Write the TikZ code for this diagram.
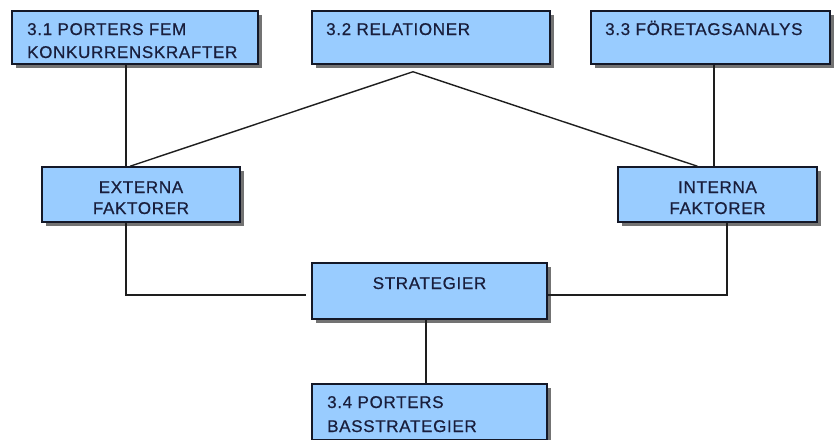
\documentclass[tikz,border=0pt]{standalone}
\usepackage{fontspec}
\setmainfont{Liberation Sans}[LetterSpace=4, FakeBold=0.6]
\usetikzlibrary{shadows}
\definecolor{boxfill}{RGB}{153,204,255}
\definecolor{boxline}{RGB}{20,24,40}
\definecolor{txt}{RGB}{25,30,60}
\definecolor{wire}{RGB}{30,30,30}
\begin{document}
\begin{tikzpicture}[x=1pt,y=-1pt,
  box/.style={draw=boxline, line width=1.5pt, fill=boxfill, inner sep=0pt,
    drop shadow={shadow xshift=3.5pt, shadow yshift=-3.5pt, fill=black!55, opacity=1}},
  lbl/.style={inner sep=0pt, text=txt, font=\fontsize{17}{23}\selectfont},
  wireline/.style={draw=wire, line width=1.4pt}]
\useasboundingbox (0,0) rectangle (840,439);
\fill[white] (0,0) rectangle (840,439);
% boxes
\node[box, minimum width=246pt, minimum height=53pt] (b31) at (135,37.5) {};
\node[box, minimum width=238pt, minimum height=53pt] (b32) at (431,37.5) {};
\node[box, minimum width=239pt, minimum height=53pt] (b33) at (710.5,37.5) {};
\node[box, minimum width=198pt, minimum height=55pt] (ext) at (141,194.5) {};
\node[box, minimum width=199pt, minimum height=55pt] (int) at (717.5,194.5) {};
\node[box, minimum width=235pt, minimum height=56pt] (str) at (429.5,291) {};
\node[box, minimum width=235pt, minimum height=56pt] (b34) at (429.5,412) {};
% texts (base anchor = last line)
\node[lbl, anchor=base west, align=left] (t31) at (27,58) {3.1 PORTERS FEM\\KONKURRENSKRAFTER};
\node[lbl, anchor=base west] (t32) at (326,35) {3.2 RELATIONER};
\node[lbl, anchor=base west] (t33) at (605,35) {3.3 FÖRETAGSANALYS};
\node[lbl, anchor=base, align=center, font=\fontsize{17}{21}\selectfont] (text) at (141,214) {EXTERNA\\FAKTORER};
\node[lbl, anchor=base, align=center, font=\fontsize{17}{21}\selectfont] (tint) at (717.5,214) {INTERNA\\FAKTORER};
\node[lbl, anchor=base] (tstr) at (429.5,289) {STRATEGIER};
\node[lbl, anchor=base west, align=left, font=\fontsize{17}{24}\selectfont] (t34) at (327,432) {3.4 PORTERS\\BASSTRATEGIER};
% connectors
\coordinate (peak) at ([xshift=-18pt,yshift=-7pt]b32.south);
\draw[wireline] ([xshift=-9pt]b31.south) -- ([xshift=-15pt]ext.north);
\draw[wireline] ([xshift=-11pt]ext.north) -- (peak) -- ([xshift=-20pt]int.north);
\draw[wireline] ([xshift=3.5pt]b33.south) -- ([xshift=-3.5pt]int.north);
\draw[wireline, shorten >=5pt] ([xshift=-15pt]ext.south) |- ([yshift=-4pt]str.west);
\draw[wireline] ([xshift=9.5pt]int.south) |- ([yshift=-4pt]str.east);
\draw[wireline] ([xshift=-3.5pt]str.south) -- ([xshift=-3.5pt]b34.north);
\end{tikzpicture}
\end{document}
